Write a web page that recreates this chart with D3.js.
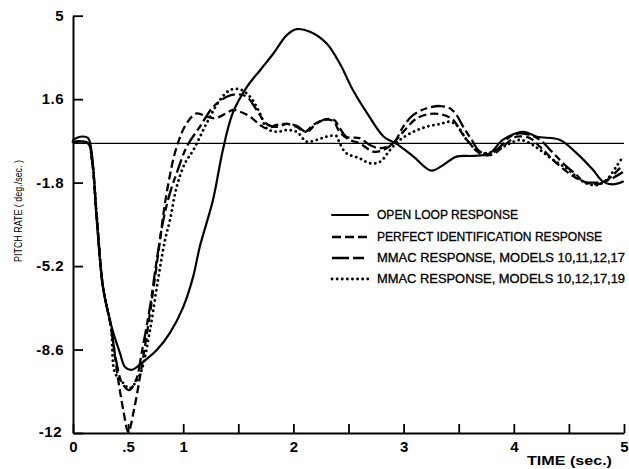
<!DOCTYPE html>
<html>
<head>
<meta charset="utf-8">
<script src="https://cdn.jsdelivr.net/npm/d3@7"></script>
<style>
  html, body { margin: 0; padding: 0; background: #fff; }
  svg { display: block; }
  text { font-family: "Liberation Sans", Arial, sans-serif; fill: #000; }
</style>
</head>
<body>
<svg id="chart" width="629" height="469"></svg>
<script>
// ---------------- data ----------------
const xTicks = [0, 0.5, 1, 1.5, 2, 2.5, 3, 3.5, 4, 4.5, 5];
const xTickLabels = ["0", ".5", "1", "", "2", "", "3", "", "4", "", "5"];
const yTicks = [5, 1.6, -1.8, -5.2, -8.6, -12];
const yTickLabels = ["5", "1.6", "-1.8", "-5.2", "-8.6", "-12"];
const referenceLevel = -0.2;

const seriesNames = [
  "OPEN LOOP RESPONSE",
  "PERFECT IDENTIFICATION RESPONSE",
  "MMAC RESPONSE, MODELS 10,11,12,17",
  "MMAC RESPONSE, MODELS 10,12,17,19"
];

// [time (sec), pitch rate (deg/sec)]
const openLoop = [
  [0, -0.06], [0.064, 0.07], [0.136, 0.02], [0.17, -0.59], [0.215, -3.32], [0.272, -6.05],
  [0.351, -7.68], [0.426, -8.74], [0.472, -9.31], [0.533, -9.43], [0.623, -9.15],
  [0.76, -8.62], [0.88, -7.92], [1.0, -6.87], [1.09, -5.64], [1.15, -4.42], [1.27, -2.51],
  [1.36, -0.47], [1.45, 1.04], [1.58, 2.11], [1.70, 2.79], [1.82, 3.47], [1.94, 4.21],
  [2.03, 4.45], [2.15, 4.35], [2.30, 3.88], [2.42, 3.06], [2.54, 1.97], [2.67, 1.02],
  [2.82, 0.07], [2.94, -0.23], [3.09, -0.74], [3.25, -1.31], [3.36, -1.08], [3.48, -0.74],
  [3.63, -0.71], [3.78, -0.61], [3.90, -0.06], [4.09, 0.27], [4.21, 0.07], [4.42, -0.06],
  [4.57, -0.60], [4.72, -1.29], [4.81, -1.76], [4.90, -1.87], [4.99, -1.76]
];

const perfectId = [
  [0, -0.14], [0.136, -0.19], [0.172, -0.88], [0.218, -3.32], [0.272, -6.05], [0.345, -7.68],
  [0.397, -9.43], [0.456, -11.06], [0.502, -11.96], [0.553, -11.06], [0.623, -9.30],
  [0.699, -7.11], [0.774, -4.67], [0.850, -2.22], [0.941, -0.34], [1.032, 0.62],
  [1.122, 1.02], [1.213, 0.89], [1.289, 0.82], [1.364, 0.96], [1.455, 1.16], [1.515, 1.09],
  [1.606, 0.89], [1.697, 0.55], [1.758, 0.41], [1.848, 0.55], [1.939, 0.59], [2.03, 0.47],
  [2.105, 0.27], [2.18, 0.55], [2.271, 0.75], [2.362, 0.71], [2.42, 0.26], [2.51, -0.06],
  [2.60, -0.19], [2.725, -0.54], [2.816, -0.47], [2.906, -0.19], [2.997, 0.27],
  [3.119, 0.82], [3.24, 1.0], [3.36, 0.96], [3.451, 0.75], [3.51, 0.34], [3.60, -0.20],
  [3.69, -0.60], [3.80, -0.67], [3.935, -0.20], [4.026, 0.07], [4.147, 0.01],
  [4.238, -0.34], [4.358, -0.88], [4.48, -1.35], [4.60, -1.69], [4.72, -1.86],
  [4.81, -1.81], [4.90, -1.49], [4.99, -1.08]
];

const mmacA = [
  [0, -0.14], [0.136, -0.19], [0.172, -0.88], [0.218, -3.32], [0.272, -6.05], [0.345, -7.68],
  [0.39, -9.02], [0.445, -9.96], [0.508, -10.25], [0.572, -9.84], [0.623, -8.74],
  [0.699, -6.85], [0.76, -4.95], [0.82, -3.32], [0.88, -2.22], [0.941, -1.41],
  [1.032, -0.34], [1.152, 0.48], [1.273, 1.29], [1.395, 1.70], [1.485, 1.80], [1.576, 1.70],
  [1.667, 1.16], [1.758, 0.59], [1.848, 0.47], [1.939, 0.59], [2.03, 0.51], [2.12, 0.27],
  [2.205, 0.59], [2.296, 0.79], [2.37, 0.75], [2.42, 0.43], [2.48, 0.07], [2.60, 0.01],
  [2.695, -0.27], [2.786, -0.40], [2.906, -0.20], [2.997, 0.48], [3.088, 0.96],
  [3.21, 1.23], [3.33, 1.32], [3.42, 1.23], [3.48, 0.96], [3.54, 0.48], [3.618, -0.06],
  [3.693, -0.54], [3.784, -0.63], [3.875, -0.34], [3.965, 0.07], [4.056, 0.21],
  [4.147, 0.14], [4.238, -0.06], [4.358, -0.60], [4.48, -1.15], [4.57, -1.49],
  [4.63, -1.76], [4.72, -1.80], [4.81, -1.77], [4.90, -1.61], [4.99, -1.37]
];

const mmacB = [
  [0, -0.14], [0.136, -0.19], [0.172, -0.88], [0.218, -3.32], [0.272, -6.05], [0.345, -7.68],
  [0.381, -9.55], [0.456, -9.97], [0.511, -10.18], [0.563, -9.97], [0.623, -9.43],
  [0.699, -7.80], [0.771, -5.77], [0.835, -4.14], [0.88, -3.32], [0.941, -1.97],
  [1.016, -1.01], [1.092, -0.47], [1.213, 0.62], [1.334, 1.57], [1.425, 1.97], [1.515, 2.0],
  [1.606, 1.70], [1.697, 1.02], [1.758, 0.41], [1.848, 0.27], [1.939, 0.34], [2.03, 0.27],
  [2.12, -0.13], [2.21, -0.06], [2.30, 0.07], [2.39, 0.10], [2.42, -0.20], [2.48, -0.60],
  [2.60, -0.81], [2.695, -1.01], [2.786, -0.95], [2.877, -0.47], [2.967, -0.06],
  [3.088, 0.27], [3.21, 0.48], [3.33, 0.59], [3.42, 0.68], [3.48, 0.55], [3.573, -0.06],
  [3.663, -0.47], [3.754, -0.60], [3.875, -0.40], [3.965, -0.20], [4.056, -0.06],
  [4.147, -0.20], [4.238, -0.47], [4.358, -0.88], [4.48, -1.22], [4.57, -1.56],
  [4.66, -1.83], [4.75, -1.90], [4.84, -1.69], [4.93, -1.15], [4.99, -0.74]
];

// ---------------- drawing ----------------
const svg = d3.select("#chart");
const x = d3.scaleLinear().domain([0, 5]).range([73, 624]);
const y = d3.scaleLinear().domain([-12, 5]).range([433, 15.7]);

const styles = [
  { data: openLoop, dash: null, width: 2.2, cap: "round" },
  { data: perfectId, dash: "8,4", width: 2.3, cap: "butt" },
  { data: mmacA, dash: "14,4,7,4", width: 2.3, cap: "butt" },
  { data: mmacB, dash: "0.1,5", width: 2.8, cap: "round" }
];

// reference line
svg.append("line")
  .attr("x1", x(0)).attr("x2", x(5))
  .attr("y1", y(referenceLevel)).attr("y2", y(referenceLevel))
  .attr("stroke", "#000").attr("stroke-width", 1.1);

const line = d3.line()
  .x(d => x(d[0])).y(d => y(d[1]))
  .curve(d3.curveCatmullRom.alpha(0.5));

styles.forEach(s => {
  svg.append("path")
    .attr("d", line(s.data))
    .attr("fill", "none")
    .attr("stroke", "#000")
    .attr("stroke-width", s.width)
    .attr("stroke-linecap", s.cap)
    .attr("stroke-linejoin", "round")
    .attr("stroke-dasharray", s.dash);
});

// axes
const yAxis = d3.axisLeft(y)
  .tickValues(yTicks)
  .tickFormat((d, i) => yTickLabels[i])
  .tickSizeInner(-10).tickSizeOuter(0).tickPadding(9);
const gy = svg.append("g").attr("transform", `translate(${x(0)},0)`).call(yAxis);

const xAxis = d3.axisBottom(x)
  .tickValues(xTicks)
  .tickFormat((d, i) => xTickLabels[i])
  .tickSizeInner(-9).tickSizeOuter(0).tickPadding(5);
const gx = svg.append("g").attr("transform", `translate(0,${y(-12)})`).call(xAxis);

[gx, gy].forEach(g => {
  g.select(".domain").attr("stroke", "#000").attr("stroke-width", 2);
  g.selectAll(".tick line").attr("stroke", "#000").attr("stroke-width", 1.8);
  g.selectAll(".tick text")
    .style("font-family", "'Liberation Sans', Arial, sans-serif")
    .style("font-size", "15px")
    .style("font-weight", "bold")
    .attr("fill", "#000");
});
gy.selectAll(".tick text").style("letter-spacing", "0.5px");
gy.selectAll(".tick text").filter((d) => d === -12).attr("dx", "-2").attr("dy", "0.2em");
gx.selectAll(".tick text").attr("dy", "0.9em");

// axis titles
svg.append("text")
  .attr("transform", `translate(22,211) rotate(-90)`)
  .attr("text-anchor", "middle")
  .attr("fill", "#000")
  .style("fill", "#000")
  .style("font-size", "10px")
  .attr("textLength", 102)
  .attr("lengthAdjust", "spacingAndGlyphs")
  .text("PITCH RATE ( deg./sec. )");

svg.append("text")
  .attr("x", 527).attr("y", 465)
  .style("font-size", "12.5px")
  .style("font-weight", "bold")
  .attr("textLength", 85)
  .attr("lengthAdjust", "spacingAndGlyphs")
  .text("TIME (sec.)");

// legend
const legendRows = [215, 237, 258, 279];
const legendLens = [141, 225, 248, 248];
const lg = svg.append("g");
seriesNames.forEach((name, i) => {
  const s = styles[i];
  lg.append("line")
    .attr("x1", 332).attr("x2", 368)
    .attr("y1", legendRows[i]).attr("y2", legendRows[i])
    .attr("stroke", "#000")
    .attr("stroke-width", s.width)
    .attr("stroke-linecap", s.cap)
    .attr("stroke-dasharray", i === 2 ? "17,4,11,4" : (i === 1 ? "9,4" : s.dash));
  lg.append("text")
    .attr("x", 377).attr("y", legendRows[i])
    .attr("dy", "0.36em")
    .style("font-size", "12px")
    .style("stroke", "#000")
    .style("stroke-width", "0.3px")
    .attr("textLength", legendLens[i])
    .attr("lengthAdjust", "spacingAndGlyphs")
    .text(name);
});
</script>
</body>
</html>
